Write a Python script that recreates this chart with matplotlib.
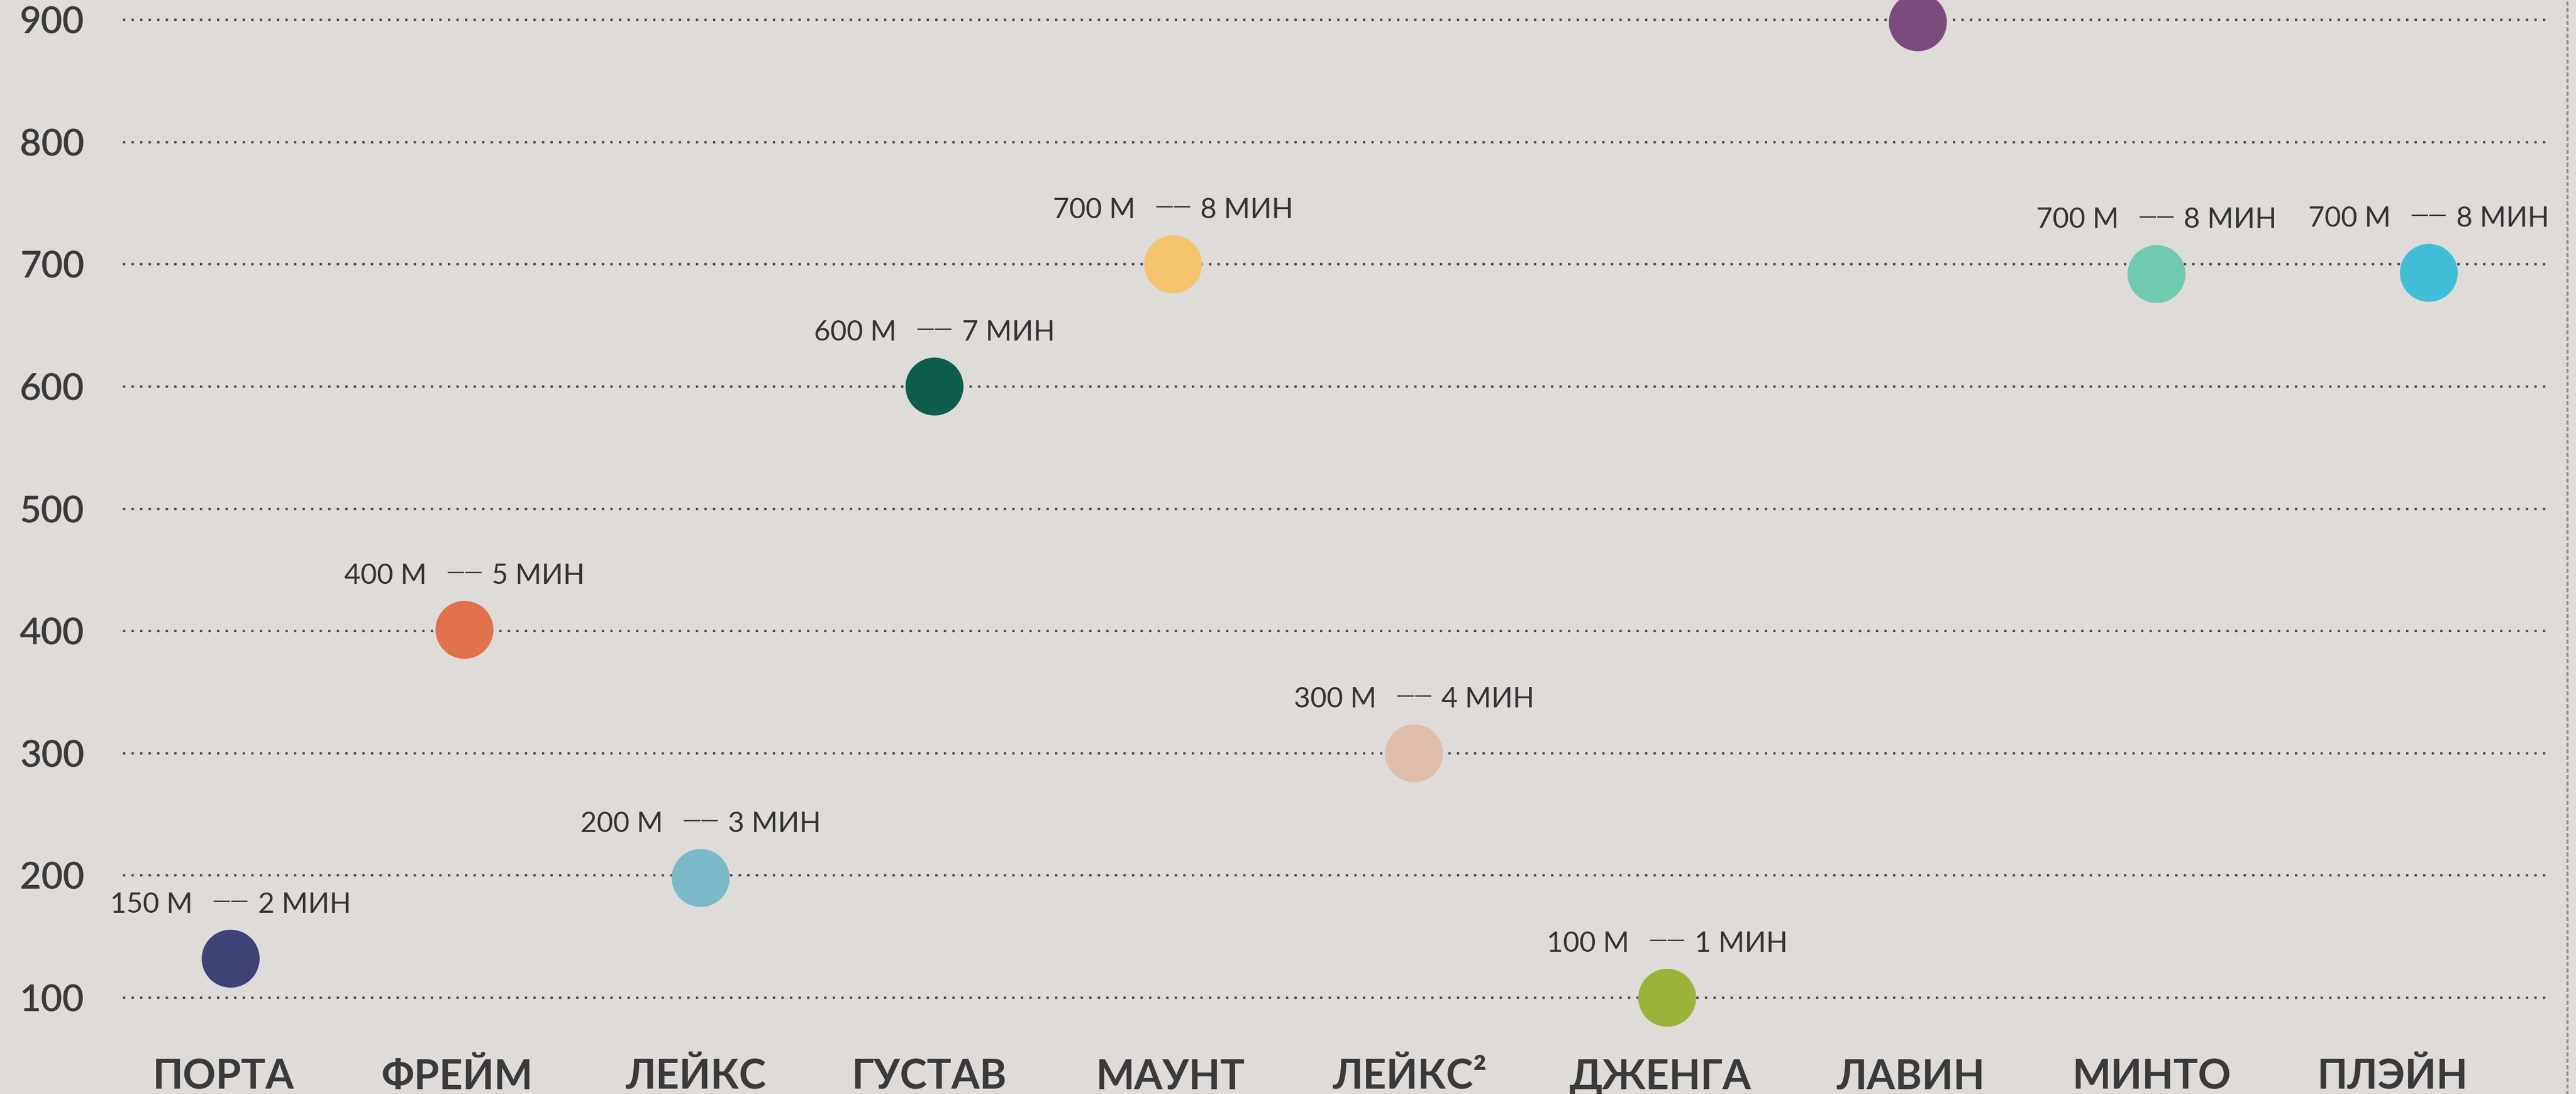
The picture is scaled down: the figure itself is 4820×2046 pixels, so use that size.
import matplotlib.pyplot as plt

# data
categories = ['ПОРТА', 'ФРЕЙМ', 'ЛЕЙКС', 'ГУСТАВ', 'МАУНТ',
              'ЛЕЙКС²', 'ДЖЕНГА', 'ЛАВИН', 'МИНТО', 'ПЛЭЙН']
label_x = [0.0, 0.97, 1.96, 2.93, 3.93, 4.92, 5.96, 7.00, 8.00, 9.00]
point_x = [0.03, 1.00, 1.98, 2.95, 3.94, 4.94, 5.99, 7.03, 8.02, 9.15]
values = [132, 401, 198, 600, 700, 300, 100, 898, 692, 693]
dist = ['150 М', '400 М', '200 М', '600 М', '700 М',
        '300 М', '100 М', None, '700 М', '700 М']
mins = ['2 МИН', '5 МИН', '3 МИН', '7 МИН', '8 МИН',
        '4 МИН', '1 МИН', None, '8 МИН', '8 МИН']
colors = ['#3e4276', '#e0714b', '#7bb8c8', '#0d5e4c', '#f4c46f',
          '#dfbeac', '#9bb33b', '#7c4b7d', '#6fcab0', '#41bfd8']
yticks = [100, 200, 300, 400, 500, 600, 700, 800, 900]

bg = '#dfdbd8'
ink = '#3a3a3a'

plt.rcParams['font.family'] = ['Lato', 'DejaVu Sans']

fig = plt.figure(figsize=(24.1, 10.23), dpi=200, facecolor=bg)
ax = fig.add_axes([230 / 4820, 0, (4804 - 230) / 4820, 1])
ax.set_facecolor(bg)

xmin, xmax = -0.417, 9.725
ax.set_xlim(xmin, xmax)
ax.set_ylim(21.3, 916.2)

# dotted guide lines
ax.hlines(yticks, xmin, 9.654, colors='#4a4a4a', linewidth=1.6,
          linestyles=(0, (1, 2.6)), zorder=1)

ax.scatter(point_x, values, s=39 ** 2, c=colors, edgecolors='none', zorder=3)

# "distance — time" notes above the dots, the dash sits over the dot
note = dict(textcoords='offset points', va='baseline', color='#333333')
for x, y, d, m in zip(point_x, values, dist, mins):
    if d is None:
        continue
    ax.annotate(d, (x, y), xytext=(-25.5, 31), ha='right', fontsize=19, **note)
    ax.annotate('\u2014\u2014', (x, y), xytext=(0, 35.3), ha='center',
                fontsize=12.2, family='DejaVu Sans', **note)
    ax.annotate(m, (x, y), xytext=(18.5, 31), ha='left', fontsize=19, **note)

for x, c in zip(label_x, categories):
    ax.text(x, 0.0045, c, transform=ax.get_xaxis_transform(), ha='center',
            va='baseline', fontsize=27.5, fontweight='bold', color=ink)

ax.set_xticks([])
ax.set_yticks(yticks)
ax.set_yticklabels([str(v) for v in yticks])
ax.tick_params(axis='y', length=0, pad=26, labelsize=25, labelcolor=ink)
for lab in ax.get_yticklabels():
    lab.set_fontweight('semibold')

for s in ['top', 'left', 'bottom']:
    ax.spines[s].set_visible(False)
ax.spines['right'].set_color('#8f8f8f')
ax.spines['right'].set_linewidth(1.4)
ax.spines['right'].set_linestyle((0, (1, 2.1)))

fig.savefig('out.png', dpi=200, facecolor=bg)
